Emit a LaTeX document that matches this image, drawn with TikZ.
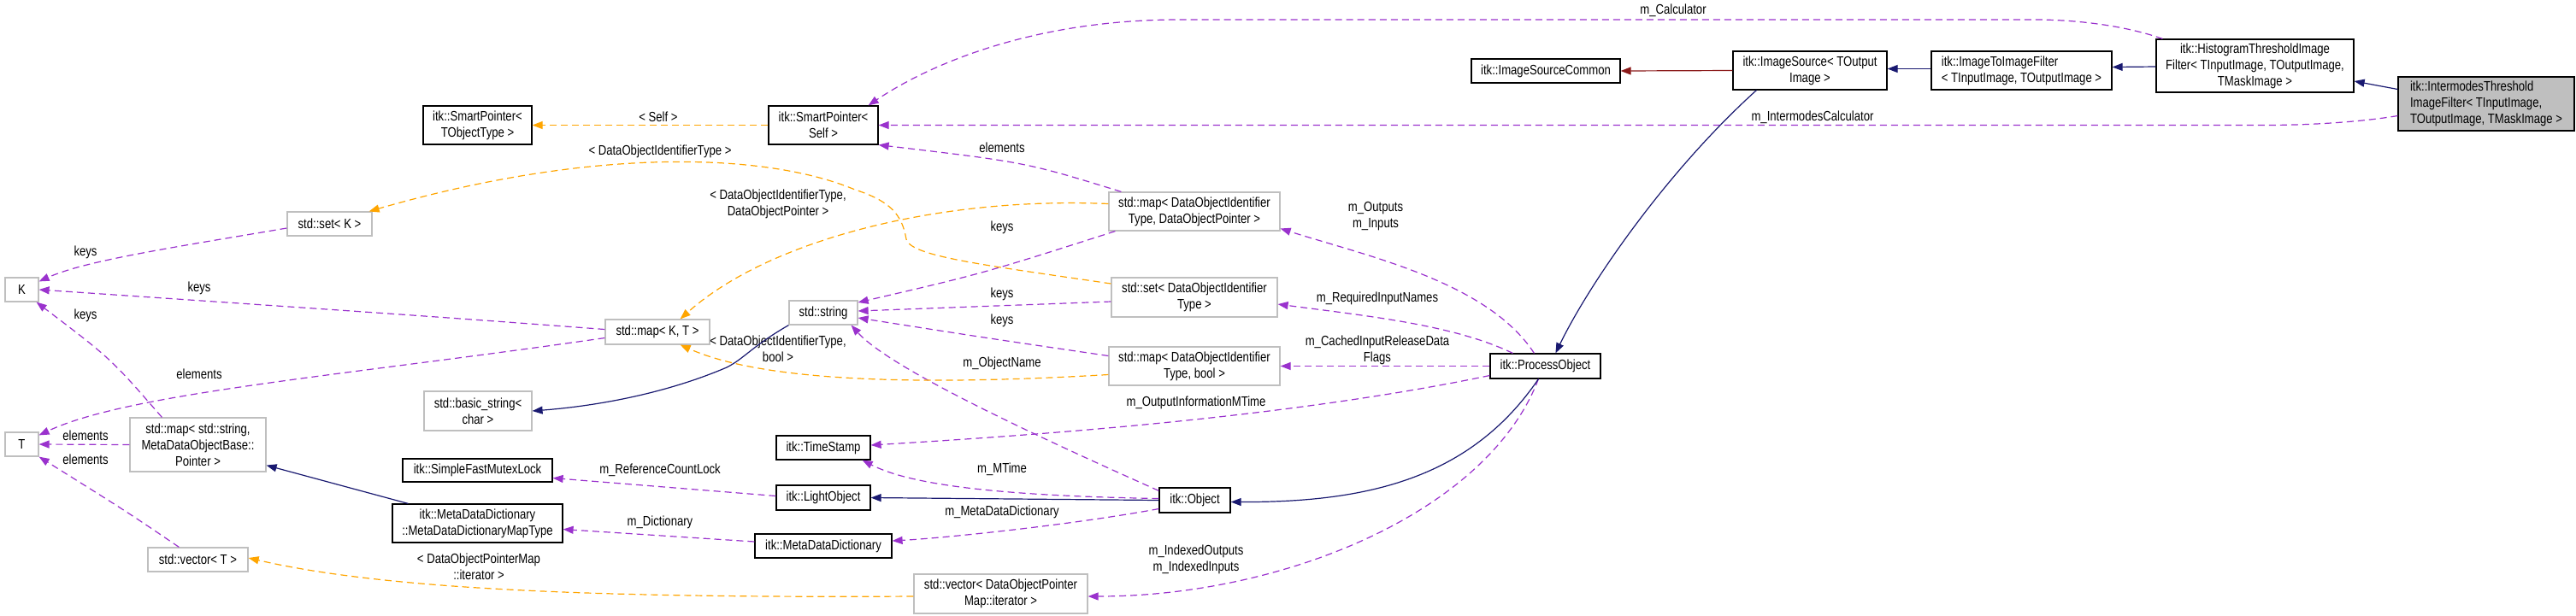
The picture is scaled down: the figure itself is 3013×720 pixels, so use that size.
\documentclass[tikz,border=0pt]{standalone}
\usepackage{fontspec}
\setmainfont{Liberation Sans}[FakeStretch=0.82]
\usetikzlibrary{arrows.meta,calc}
\definecolor{usec}{HTML}{9A32CD}
\definecolor{tmplc}{HTML}{FFA500}
\definecolor{inhc}{HTML}{191970}
\definecolor{redc}{HTML}{8B1A1A}
\definecolor{grayb}{HTML}{BFBFBF}
\begin{document}
\begin{tikzpicture}[x=0.5pt,y=-0.5pt,
  font=\fontsize{8}{9.5}\selectfont,
  box/.style={draw=black,line width=0.6pt,fill=white,inner sep=1pt,align=center},
  ubox/.style={draw=grayb,line width=0.6pt,fill=white,inner sep=1pt,align=center},
  lab/.style={inner sep=0pt,align=center},
  tip/.style={-{Triangle[length=6pt,width=4.5pt]}},
  use/.style={tip,draw=usec,dash pattern=on 4pt off 2.5pt,line width=0.6pt},
  tmpl/.style={tip,draw=tmplc,dash pattern=on 4pt off 2.5pt,line width=0.6pt},
  inh/.style={tip,draw=inhc,line width=0.6pt},
  red/.style={tip,draw=redc,line width=0.6pt}]
\useasboundingbox (0,0) rectangle (3013,720);
% nodes
\node[box,minimum width=63.5pt,minimum height=22.5pt] (SPT) at (558.5,146.5) {itk::SmartPointer<\\TObjectType >};
\node[box,minimum width=64pt,minimum height=22.5pt] (SPS) at (963,146.5) {itk::SmartPointer<\\Self >};
\node[box,minimum width=87pt,minimum height=14pt] (ISC) at (1808,83) {itk::ImageSourceCommon};
\node[box,minimum width=90pt,minimum height=22.5pt] (IS) at (2117,82.5) {itk::ImageSource< TOutput\\Image >};
\node[box,minimum width=105.5pt,minimum height=22.5pt,align=left] (ITI) at (2364.5,82.5) {itk::ImageToImageFilter\\< TInputImage, TOutputImage >};
\node[box,minimum width=115.5pt,minimum height=31pt] (HT) at (2637.5,77) {itk::HistogramThresholdImage\\Filter< TInputImage, TOutputImage,\\TMaskImage >};
\node[box,fill=grayb,minimum width=103pt,minimum height=31.5pt,align=left] (IM) at (2908,121.5) {itk::IntermodesThreshold\\ImageFilter< TInputImage,\\ TOutputImage, TMaskImage >};
\node[ubox,minimum width=49.5pt,minimum height=14pt] (SetK) at (385.5,262) {std::set< K >};
\node[ubox,minimum width=19.5pt,minimum height=14pt] (K) at (25.5,339) {K};
\node[ubox,minimum width=61pt,minimum height=14.5pt] (MapKT) at (769,388.5) {std::map< K, T >};
\node[ubox,minimum width=40pt,minimum height=14pt] (Str) at (963,366) {std::string};
\node[ubox,minimum width=63pt,minimum height=23pt] (BStr) at (559,481) {std::basic\_string<\\char >};
\node[ubox,minimum width=19.5pt,minimum height=14pt] (T) at (25.5,520) {T};
\node[ubox,minimum width=79.5pt,minimum height=31.5pt] (MDMap) at (231.5,520.5) {std::map< std::string,\\MetaDataObjectBase::\\Pointer >};
\node[box,minimum width=87.5pt,minimum height=13.5pt] (SFML) at (558.5,550.5) {itk::SimpleFastMutexLock};
\node[box,minimum width=99.5pt,minimum height=22.5pt] (MDMT) at (558.5,612.5) {itk::MetaDataDictionary\\::MetaDataDictionaryMapType};
\node[ubox,minimum width=58.5pt,minimum height=14pt] (VecT) at (231.5,655) {std::vector< T >};
\node[box,minimum width=55pt,minimum height=14pt] (TS) at (963,524) {itk::TimeStamp};
\node[box,minimum width=55pt,minimum height=14.5pt] (LO) at (963,582.5) {itk::LightObject};
\node[box,minimum width=80pt,minimum height=14pt] (MDD) at (963,639) {itk::MetaDataDictionary};
\node[ubox,minimum width=100pt,minimum height=22.5pt] (MapDOP) at (1397,247.5) {std::map< DataObjectIdentifier\\Type, DataObjectPointer >};
\node[ubox,minimum width=97pt,minimum height=23pt] (SetDO) at (1397,348) {std::set< DataObjectIdentifier\\Type >};
\node[ubox,minimum width=100pt,minimum height=22.5pt] (MapDB) at (1397,428.5) {std::map< DataObjectIdentifier\\Type, bool >};
\node[box,minimum width=64.5pt,minimum height=14.5pt] (PO) at (1807.5,428.5) {itk::ProcessObject};
\node[box,minimum width=41.5pt,minimum height=14.5pt] (Obj) at (1397.5,585.5) {itk::Object};
\node[ubox,minimum width=101.5pt,minimum height=23pt] (VecDO) at (1170.5,695) {std::vector< DataObjectPointer\\Map::iterator >};
% usage edges
\draw[use] ($(HT.north west)+(8,0)$) .. controls (2480,28) and (2420,23) .. (2380,23) -- (1380,23) .. controls (1200,23) and (1080,80) .. ($(SPS.north east)+(-12,0)$);
\node[lab] (l1) at (1957,12) {m\_Calculator};
\draw[use] ($(IM.west)+(0,14)$) .. controls (2760,143) and (2700,146.5) .. (2650,146.5) -- (SPS.east);
\node[lab] (l2) at (2120,137) {m\_IntermodesCalculator};
\draw[use] ($(MapDOP.north west)+(15,0)$) .. controls (1200,190) .. (SPS.south east);
\node[lab] (l3) at (1172,173) {elements};
\draw[use] ($(MapDOP.south west)+(8,0)$) .. controls (1150,320) .. ($(Str.east)+(0,-12)$);
\node[lab] (l4) at (1172,266) {keys};
\draw[use] ($(SetDO.west)+(0,5)$) -- ($(Str.east)+(0,-2)$);
\node[lab] (l5) at (1172,344) {keys};
\draw[use] ($(MapDB.west)+(0,-12)$) .. controls (1150,395) .. ($(Str.east)+(0,6)$);
\node[lab] (l6) at (1172,375) {keys};
\draw[use] ($(Obj.north west)+(0,4)$) .. controls (1200,505) and (1040,430) .. ($(Str.south east)+(-8,0)$);
\node[lab] (l7) at (1172,425) {m\_ObjectName};
\draw[use] ($(PO.north west)+(52,0)$) .. controls (1740,330) and (1600,300) .. ($(MapDOP.east)+(0,20)$);
\node[lab] (l8) at (1609,253.5) {m\_Outputs\\m\_Inputs};
\draw[use] ($(PO.north west)+(27,0)$) .. controls (1700,380) and (1600,370) .. ($(SetDO.east)+(0,8)$);
\node[lab] (l9) at (1611,349) {m\_RequiredInputNames};
\draw[use] (PO.west) -- (MapDB.east);
\node[lab] (l10) at (1611,410) {m\_CachedInputReleaseData\\Flags};
\draw[use] ($(PO.west)+(0,11)$) .. controls (1500,490) and (1200,510) .. ($(TS.east)+(0,-3)$);
\node[lab] (l11) at (1399,471) {m\_OutputInformationMTime};
\draw[use] ($(PO.south west)+(57,0)$) .. controls (1740,600) and (1500,698) .. ($(VecDO.east)+(0,3)$);
\node[lab] (l12) at (1399,654.5) {m\_IndexedOutputs\\m\_IndexedInputs};
\draw[use] ($(Obj.west)+(0,-2)$) .. controls (1150,580) and (1060,565) .. ($(TS.south east)+(-10,0)$);
\node[lab] (l13) at (1172,549) {m\_MTime};
\draw[use] ($(Obj.west)+(0,10)$) .. controls (1250,615) and (1100,630) .. ($(MDD.east)+(0,-6)$);
\node[lab] (l14) at (1172,599) {m\_MetaDataDictionary};
\draw[use] ($(LO.west)+(0,-2)$) -- ($(SFML.east)+(0,9)$);
\node[lab] (l15) at (772,550) {m\_ReferenceCountLock};
\draw[use] ($(MDD.west)+(0,-5)$) -- ($(MDMT.east)+(0,7)$);
\node[lab] (l16) at (772,611) {m\_Dictionary};
\draw[use] ($(SetK.west)+(0,5)$) .. controls (200,290) and (100,305) .. ($(K.north east)+(0,5)$);
\node[lab] (l17) at (100,295) {keys};
\draw[use] ($(MapKT.west)+(0,-3)$) .. controls (500,370) .. (K.east);
\node[lab] (l18) at (233,337) {keys};
\draw[use] ($(MDMap.north west)+(38,0)$) .. controls (130,420) .. ($(K.south east)+(-3,0)$);
\node[lab] (l19) at (100,369) {keys};
\draw[use] ($(MapKT.west)+(0,7)$) .. controls (400,440) and (150,460) .. ($(T.north east)+(0,4)$);
\node[lab] (l20) at (233,438) {elements};
\draw[use] (MDMap.west) -- (T.east);
\node[lab] (l21) at (100,510) {elements};
\draw[use] ($(VecT.north west)+(37,0)$) .. controls (150,600) .. ($(T.south east)+(0,0)$);
\node[lab] (l22) at (100,538) {elements};
% template edges
\draw[tmpl] (SPS.west) -- (SPT.east);
\node[lab] (l23) at (770,137) {< Self >};
\draw[tmpl] ($(SetDO.west)+(0,-16)$) .. controls (1150,310) and (1065,300) .. (1060,280) .. controls (1055,250) and (1040,235) .. (1000,222) .. controls (900,180) and (700,170) .. ($(SetK.north east)+(-4,0)$);
\node[lab] (l24) at (772,177) {< DataObjectIdentifierType >};
\draw[tmpl] ($(MapDOP.west)+(0,-9)$) .. controls (1100,230) and (900,280) .. ($(MapKT.north east)+(-35,0)$);
\node[lab] (l25) at (910,239) {< DataObjectIdentifierType,\\DataObjectPointer >};
\draw[tmpl] ($(MapDB.west)+(0,10)$) .. controls (1100,450) and (900,450) .. ($(MapKT.south east)+(-35,0)$);
\node[lab] (l26) at (910,408.5) {< DataObjectIdentifierType,\\bool >};
\draw[tmpl] ($(VecDO.west)+(0,3)$) .. controls (700,700) and (450,690) .. ($(VecT.east)+(0,-2)$);
\node[lab] (l27) at (560,663) {< DataObjectPointerMap\\::iterator >};
% inheritance
\draw[inh] ($(IM.west)+(0,-17)$) -- ($(HT.east)+(0,18)$);
\draw[inh] ($(HT.west)+(0,1)$) -- ($(ITI.east)+(0,-4)$);
\draw[inh] ($(ITI.west)+(0,-2)$) -- ($(IS.east)+(0,-2)$);
\draw[inh] ($(IS.south west)+(28,0)$) .. controls (1950,200) and (1860,330) .. ($(PO.north west)+(77,0)$);
\draw[inh] ($(PO.south west)+(57,0)$) .. controls (1720,560) and (1600,588) .. ($(Obj.east)+(0,2)$);
\draw[inh] (Obj.west) -- (LO.east);
\draw[inh] (Str.south west) .. controls (880,405) and (870,420) .. (850,430) .. controls (780,460) and (700,475) .. (BStr.east);
\draw[inh] ($(MDMT.north west)+(19,0)$) -- ($(MDMap.south east)+(0,-8)$);
\draw[red] (IS.west) -- (ISC.east);
\end{tikzpicture}
\end{document}
